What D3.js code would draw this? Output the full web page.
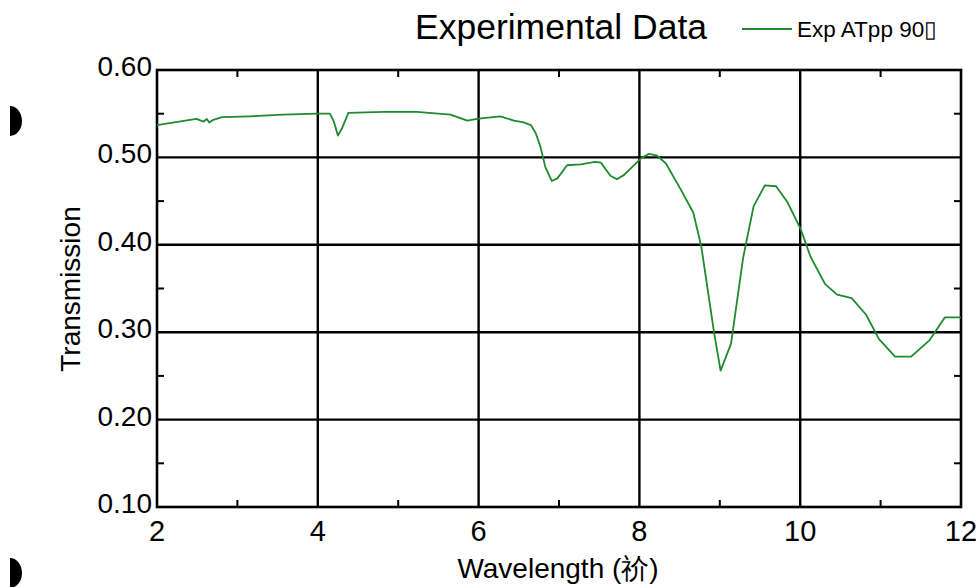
<!DOCTYPE html>
<html>
<head>
<meta charset="utf-8">
<script src="https://cdn.jsdelivr.net/npm/d3@7"></script>
<style>
  body { margin: 0; background: #fff; }
  svg text { font-family: "Liberation Sans", Arial, sans-serif; fill: #000; }
</style>
</head>
<body>
<svg id="chart" width="979" height="587"></svg>
<script>
// spectrum
const wavelength = [
  2.00, 2.49, 2.58, 2.62, 2.65, 2.70, 2.81, 3.16, 3.57, 3.99,
  4.15, 4.20, 4.25, 4.30, 4.38, 4.82, 5.23, 5.65, 5.86, 5.98,
  6.06, 6.27, 6.44, 6.56, 6.65, 6.71, 6.77, 6.83, 6.91, 6.98,
  7.10, 7.27, 7.45, 7.52, 7.64, 7.72, 7.81, 8.02, 8.12, 8.22,
  8.33, 8.51, 8.67, 8.77, 8.93, 9.01, 9.14, 9.29, 9.42, 9.56,
  9.70, 9.84, 10.01, 10.13, 10.31, 10.46, 10.64, 10.82, 10.98, 11.18,
  11.38, 11.61, 11.80, 12.00
];
const transmission = [
  0.537, 0.544, 0.541, 0.544, 0.540, 0.543, 0.546, 0.547, 0.549, 0.550,
  0.550, 0.541, 0.525, 0.533, 0.551, 0.552, 0.552, 0.549, 0.542, 0.544,
  0.545, 0.547, 0.542, 0.540, 0.537, 0.528, 0.512, 0.489, 0.473, 0.476,
  0.491, 0.492, 0.495, 0.494, 0.479, 0.475, 0.480, 0.499, 0.504, 0.502,
  0.493, 0.464, 0.437, 0.398, 0.299, 0.256, 0.287, 0.385, 0.444, 0.468,
  0.467, 0.449, 0.417, 0.386, 0.355, 0.343, 0.339, 0.320, 0.292, 0.272,
  0.272, 0.291, 0.317, 0.317
];
const xMajor = [2, 4, 6, 8, 10, 12];
const xMinor = [3, 5, 7, 9, 11];
const yMajor = [0.10, 0.20, 0.30, 0.40, 0.50, 0.60];
const yMinor = [0.15, 0.25, 0.35, 0.45, 0.55];

const svg = d3.select("#chart");
const plot = { left: 157, right: 961, top: 70, bottom: 507 };

const x = d3.scaleLinear().domain([2, 12]).range([plot.left, plot.right]);
const y = d3.scaleLinear().domain([0.10, 0.60]).range([plot.bottom, plot.top]);

// grid lines (black, as in the printout)
svg.append("g").selectAll("line").data(xMajor.slice(1, -1)).join("line")
  .attr("x1", d => x(d)).attr("x2", d => x(d))
  .attr("y1", plot.top).attr("y2", plot.bottom)
  .attr("stroke", "#000").attr("stroke-width", 2.4);
svg.append("g").selectAll("line").data(yMajor.slice(1, -1)).join("line")
  .attr("x1", plot.left).attr("x2", plot.right)
  .attr("y1", d => y(d)).attr("y2", d => y(d))
  .attr("stroke", "#000").attr("stroke-width", 2.4);

// minor ticks point inward on all four sides
const tick = 7;
const minor = svg.append("g").attr("stroke", "#000").attr("stroke-width", 2);
for (const v of xMinor) {
  minor.append("line").attr("x1", x(v)).attr("x2", x(v)).attr("y1", plot.bottom).attr("y2", plot.bottom - tick);
  minor.append("line").attr("x1", x(v)).attr("x2", x(v)).attr("y1", plot.top).attr("y2", plot.top + tick);
}
for (const v of yMinor) {
  minor.append("line").attr("x1", plot.left).attr("x2", plot.left + tick).attr("y1", y(v)).attr("y2", y(v));
  minor.append("line").attr("x1", plot.right).attr("x2", plot.right - tick).attr("y1", y(v)).attr("y2", y(v));
}

// frame
svg.append("rect")
  .attr("x", plot.left).attr("y", plot.top)
  .attr("width", plot.right - plot.left).attr("height", plot.bottom - plot.top)
  .attr("fill", "none").attr("stroke", "#000").attr("stroke-width", 2.6);

// tick labels
svg.append("g").selectAll("text").data(yMajor).join("text")
  .attr("x", plot.left - 5).attr("y", d => y(d) + 6)
  .attr("text-anchor", "end").attr("font-size", 28)
  .text(d => d3.format(".2f")(d));
svg.append("g").selectAll("text").data(xMajor).join("text")
  .attr("x", d => x(d)).attr("y", 541)
  .attr("text-anchor", "middle").attr("font-size", 29)
  .text(d => d);

// the curve
const line = d3.line()
  .x(i => x(wavelength[i]))
  .y(i => y(transmission[i]));
svg.append("path")
  .attr("d", line(d3.range(wavelength.length)))
  .attr("fill", "none")
  .attr("stroke", "#1f8a2e")
  .attr("stroke-width", 1.8)
  .attr("stroke-linejoin", "round");

// titles
svg.append("text").attr("x", 561).attr("y", 39)
  .attr("text-anchor", "middle").attr("font-size", 35.5)
  .text("Experimental Data");
svg.append("text").attr("x", 558).attr("y", 578)
  .attr("text-anchor", "middle").attr("font-size", 28)
  .text("Wavelength (祄)");
svg.append("text")
  .attr("transform", "translate(80,289) rotate(-90)")
  .attr("text-anchor", "middle").attr("font-size", 28)
  .text("Transmission");

// legend
svg.append("line").attr("x1", 742).attr("x2", 792).attr("y1", 29).attr("y2", 29)
  .attr("stroke", "#1f8a2e").attr("stroke-width", 1.8);
svg.append("text").attr("x", 797).attr("y", 37).attr("font-size", 22.5)
  .text("Exp ATpp 90\u25AF");

// scan artefacts (punch holes at the left edge)
svg.append("path").attr("d", "M10,106 A12,15 0 0 1 10,136 Z").attr("fill", "#000");
svg.append("path").attr("d", "M10,558 A12,15 0 0 1 10,588 Z").attr("fill", "#000");
</script>
</body>
</html>
